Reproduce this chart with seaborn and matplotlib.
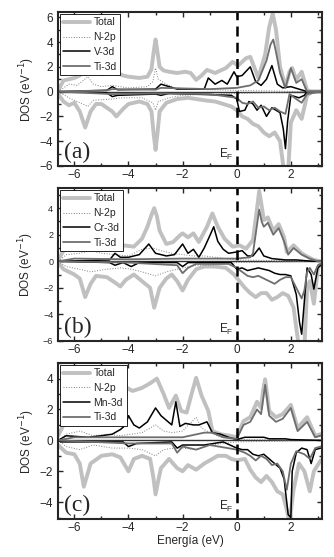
import seaborn as sns
import matplotlib.pyplot as plt
from matplotlib.ticker import MultipleLocator

# ---- datos (energía en eV, DOS en 1/eV) ----
# panel (a): V
A_TOT_UP = [(-6.6, 0.1), (-6.4, 0.9), (-6.2, 1.0), (-6.0, 1.1), (-5.8, 1.3), (-5.6, 1.8), (-5.5, 2.0), (-5.3, 1.6),
            (-5.0, 1.4), (-4.8, 1.5), (-4.6, 1.8), (-4.4, 1.5), (-4.2, 1.3), (-4.0, 1.2), (-3.6, 1.1), (-3.3, 1.2),
            (-3.15, 1.8), (-3.07, 3.2), (-3.0, 4.2), (-2.93, 3.2), (-2.85, 2.0), (-2.7, 1.7), (-2.5, 1.6),
            (-2.2, 1.5), (-1.9, 1.6), (-1.7, 1.5), (-1.5, 0.95), (-1.3, 1.3), (-1.1, 1.75), (-0.8, 1.5),
            (-0.4, 1.9), (-0.15, 2.4), (0.05, 2.1), (0.35, 2.7), (0.5, 2.8), (0.8, 1.1), (1.05, 3.0), (1.2, 5.2),
            (1.33, 6.3), (1.45, 5.0), (1.6, 2.0), (1.8, 0.4), (1.95, 1.6), (2.05, 1.9), (2.2, 0.95), (2.4, 1.6),
            (2.6, 0.1), (2.8, 0.0), (3.1, 0.0)]
A_TOT_DN = [(-6.6, -0.2), (-6.4, -0.8), (-6.2, -1.1), (-6.0, -0.9), (-5.8, -1.6), (-5.6, -2.9), (-5.4, -1.6),
            (-5.2, -1.0), (-5.0, -1.0), (-4.8, -1.3), (-4.6, -1.6), (-4.45, -2.0), (-4.2, -1.4), (-4.0, -1.0),
            (-3.6, -0.8), (-3.3, -1.0), (-3.15, -1.6), (-3.07, -3.4), (-3.0, -4.7), (-2.93, -3.4), (-2.85, -1.6),
            (-2.6, -0.9), (-2.2, -0.6), (-1.8, -0.5), (-1.5, -0.6), (-1.2, -0.7), (-0.8, -0.8), (-0.5, -1.0),
            (-0.2, -1.2), (0.0, -1.5), (0.2, -2.0), (0.4, -2.2), (0.6, -2.6), (0.8, -2.8), (1.0, -3.3),
            (1.2, -3.6), (1.4, -3.3), (1.6, -4.0), (1.75, -6.5), (1.9, -6.5), (2.0, -2.5), (2.2, -1.5),
            (2.4, -2.2), (2.6, -0.3), (2.8, 0.0), (3.1, 0.0)]
A_X_UP = [(-6.6, 0.0), (-4.8, 0.1), (-4.6, 0.4), (-4.4, 0.15), (-3.0, 0.2), (-2.8, 0.6), (-2.5, 0.4), (-2.2, 0.2),
          (-1.2, 0.2), (-1.05, 1.1), (-0.8, 0.6), (-0.55, 0.9), (-0.35, 0.6), (-0.1, 1.6), (0.0, 1.2), (0.2, 1.3),
          (0.5, 2.0), (0.7, 0.8), (0.9, 0.5), (1.1, 1.0), (1.3, 2.1), (1.5, 0.6), (1.7, 0.3), (2.0, 0.4),
          (2.3, 0.2), (2.6, 0.0), (3.1, 0.0)]
A_X_DN = [(-6.6, 0.0), (-4.8, -0.1), (-4.6, -0.4), (-4.4, -0.3), (-3.0, -0.2), (-2.8, -0.3), (-2.5, -0.15),
          (-0.2, -0.3), (0.0, -0.6), (0.1, -1.6), (0.3, -1.5), (0.45, -0.8), (0.6, -1.0), (0.75, -1.5), (0.9, -1.1),
          (1.1, -2.0), (1.3, -1.3), (1.45, -1.5), (1.6, -1.7), (1.72, -3.0), (1.8, -4.6), (1.88, -2.4),
          (2.0, -0.3), (2.3, -0.5), (2.5, -0.3), (2.6, 0.0), (3.1, 0.0)]
A_TI_UP = [(-6.6, 0.0), (-4.8, 0.1), (-4.6, 0.2), (-3.0, 0.15), (-2.8, 0.3), (-1.0, 0.2), (0.0, 0.3), (0.5, 0.5),
           (0.8, 0.9), (1.1, 2.5), (1.25, 3.8), (1.35, 4.2), (1.45, 3.2), (1.6, 1.5), (1.8, 0.3), (2.0, 1.9),
           (2.2, 0.7), (2.4, 1.0), (2.6, 0.0), (3.1, 0.0)]
A_TI_DN = [(-6.6, 0.0), (-4.6, -0.2), (-3.0, -0.15), (-1.0, -0.2), (0.0, -0.5), (0.2, -0.9), (0.4, -1.0),
           (0.6, -0.8), (0.8, -1.3), (1.0, -1.2), (1.2, -1.5), (1.4, -1.3), (1.6, -1.6), (1.8, -1.8), (1.95, -0.2),
           (2.2, -0.6), (2.4, -0.9), (2.6, -0.2), (3.1, 0.0)]
A_N_UP = [(-6.6, 0.0), (-6.2, 0.6), (-5.9, 0.5), (-5.5, 1.2), (-5.3, 0.6), (-5.0, 0.4), (-4.6, 0.5), (-4.0, 0.3),
          (-3.3, 0.4), (-3.1, 0.8), (-3.0, 1.9), (-2.9, 1.0), (-2.6, 0.6), (-2.3, 0.3), (-1.8, 0.2), (-1.0, 0.15),
          (0.0, 0.1), (2.6, 0.0), (3.1, 0.0)]
A_N_DN = [(-6.6, 0.0), (-6.2, -0.5), (-5.5, -1.2), (-5.3, -0.7), (-4.6, -0.6), (-4.3, -0.5), (-3.5, -0.5),
          (-3.1, -0.9), (-3.0, -1.5), (-2.9, -0.8), (-2.5, -0.5), (-2.0, -0.3), (-1.0, -0.2), (0.0, -0.15),
          (2.5, 0.0), (3.1, 0.0)]

# panel (b): Cr
B_TOT_UP = [(-6.6, 0.1), (-6.4, 0.8), (-6.2, 0.9), (-5.8, 1.0), (-5.4, 1.1), (-5.0, 1.0), (-4.6, 1.2), (-4.2, 1.2),
            (-3.8, 1.1), (-3.5, 1.7), (-3.3, 2.6), (-3.15, 3.5), (-3.05, 4.0), (-2.95, 3.4), (-2.85, 2.3),
            (-2.6, 1.3), (-2.35, 1.45), (-2.1, 1.95), (-2.0, 2.1), (-1.8, 1.8), (-1.6, 2.1), (-1.4, 1.45),
            (-1.1, 2.6), (-0.9, 3.6), (-0.7, 2.6), (-0.45, 1.7), (-0.15, 1.1), (0.1, 1.2), (0.35, 0.95),
            (0.6, 1.6), (0.72, 3.5), (0.83, 5.3), (0.92, 4.2), (1.0, 3.1), (1.15, 3.3), (1.35, 2.3), (1.55, 2.8),
            (1.75, 1.8), (1.85, 0.7), (2.1, 1.2), (2.4, 0.6), (2.65, 0.3), (2.85, 0.1), (3.1, 0.0)]
B_TOT_DN = [(-6.6, -0.1), (-6.4, -0.6), (-6.2, -0.8), (-6.0, -1.0), (-5.8, -1.3), (-5.6, -2.7), (-5.4, -1.7),
            (-5.2, -1.1), (-4.8, -1.2), (-4.5, -1.6), (-4.3, -1.9), (-4.1, -1.4), (-3.8, -1.0), (-3.5, -1.5),
            (-3.2, -2.0), (-3.05, -3.5), (-2.85, -2.0), (-2.6, -1.3), (-2.4, -1.0), (-2.2, -1.5), (-2.0, -2.2),
            (-1.8, -1.4), (-1.5, -0.6), (-1.2, -0.4), (-0.8, -0.4), (-0.4, -0.5), (-0.1, -1.0), (0.1, -1.5),
            (0.3, -2.0), (0.5, -2.4), (0.7, -2.7), (0.9, -2.4), (1.1, -2.4), (1.3, -2.9), (1.5, -2.7), (1.7, -2.4),
            (1.9, -2.6), (2.1, -3.5), (2.3, -6.5), (2.5, -6.5), (2.6, -2.0), (2.7, -1.5), (2.85, -3.2), (3.0, -0.5),
            (3.1, -0.2)]
B_X_UP = [(-6.6, 0.0), (-4.7, 0.1), (-4.5, 0.6), (-4.3, 0.3), (-4.0, 0.3), (-3.6, 0.5), (-3.25, 1.3), (-3.0, 0.6),
          (-2.6, 0.4), (-2.3, 0.5), (-2.0, 1.3), (-1.8, 0.6), (-1.6, 0.9), (-1.4, 0.3), (-1.2, 1.0), (-1.0, 1.9),
          (-0.85, 2.6), (-0.7, 1.5), (-0.5, 0.9), (-0.3, 0.6), (0.0, 0.7), (0.2, 0.8), (0.4, 0.4), (0.6, 0.4),
          (0.83, 1.0), (1.0, 0.4), (1.3, 0.2), (1.8, 0.1), (2.2, 0.1), (2.8, 0.0), (3.1, 0.0)]
B_X_DN = [(-6.6, 0.0), (-4.7, -0.1), (-4.5, -0.3), (-4.2, -0.1), (-3.9, -0.4), (-3.6, -0.1), (-2.2, -0.1),
          (-2.0, -0.4), (-1.8, -0.1), (-0.2, -0.1), (0.0, -0.6), (0.2, -0.5), (0.4, -0.7), (0.6, -0.6), (0.8, -0.5),
          (1.0, -0.6), (1.2, -0.7), (1.4, -0.9), (1.6, -1.0), (1.8, -1.0), (2.0, -1.1), (2.2, -2.5), (2.32, -4.6),
          (2.4, -5.5), (2.5, -3.0), (2.6, -0.5), (2.75, -1.0), (2.85, -2.1), (3.0, -0.5), (3.1, -0.3)]
B_TI_UP = [(-6.6, 0.0), (-6.0, 0.2), (-4.0, 0.15), (-2.0, 0.2), (-1.0, 0.2), (0.0, 0.2), (0.5, 0.3), (0.6, 0.6),
           (0.74, 2.6), (0.83, 3.9), (0.92, 3.0), (1.0, 2.6), (1.15, 2.9), (1.35, 2.0), (1.55, 2.5), (1.75, 1.5),
           (1.9, 0.5), (2.1, 1.0), (2.4, 0.5), (2.7, 0.2), (3.0, 0.0), (3.1, 0.0)]
B_TI_DN = [(-6.6, 0.0), (-4.0, -0.1), (-2.2, -0.3), (-2.0, -0.9), (-1.8, -0.5), (-1.5, -0.2), (-0.3, -0.2),
           (0.0, -0.5), (0.2, -0.8), (0.4, -1.1), (0.6, -1.2), (0.8, -1.1), (1.0, -1.3), (1.2, -1.5), (1.4, -1.7),
           (1.6, -1.4), (1.8, -1.2), (2.0, -1.2), (2.2, -2.0), (2.4, -2.8), (2.5, -2.2), (2.6, -0.8), (2.7, -0.5),
           (2.85, -1.0), (3.0, -0.3), (3.1, -0.2)]
B_N_UP = [(-6.6, 0.0), (-6.3, 0.5), (-5.8, 0.6), (-5.4, 0.8), (-5.0, 0.6), (-4.5, 0.5), (-4.0, 0.4), (-3.5, 0.9),
          (-3.1, 1.0), (-2.8, 0.8), (-2.4, 0.6), (-2.0, 0.5), (-1.6, 0.4), (-1.2, 0.4), (-0.8, 0.3), (0.0, 0.1),
          (3.1, 0.0)]
B_N_DN = [(-6.6, 0.0), (-6.3, -0.4), (-5.8, -0.6), (-5.4, -0.8), (-4.8, -0.6), (-4.3, -0.5), (-3.9, -0.6),
          (-3.5, -0.8), (-3.0, -1.1), (-2.6, -0.8), (-2.0, -0.5), (-1.5, -0.3), (-1.0, -0.3), (0.0, -0.1),
          (3.1, 0.0)]

# panel (c): Mn
C_TOT_UP = [(-6.6, 0.3), (-6.4, 1.0), (-6.0, 1.5), (-5.6, 1.4), (-5.2, 1.6), (-4.8, 1.8), (-4.4, 2.0), (-4.2, 2.5),
            (-4.05, 3.4), (-3.85, 3.2), (-3.5, 3.4), (-3.2, 3.7), (-2.95, 4.0), (-2.7, 3.0), (-2.5, 2.1),
            (-2.25, 2.9), (-2.05, 1.9), (-1.85, 1.8), (-1.7, 2.8), (-1.5, 4.05), (-1.3, 2.9), (-1.05, 1.9),
            (-0.9, 0.6), (-0.6, 0.4), (-0.25, 0.3), (0.0, 0.2), (0.25, 1.25), (0.5, 1.5), (0.75, 2.5), (0.9, 2.1),
            (0.97, 3.2), (1.05, 3.95), (1.12, 3.0), (1.2, 1.9), (1.45, 1.5), (1.7, 1.7), (2.0, 2.3), (2.25, 0.8),
            (2.6, 1.5), (2.9, 0.3), (3.1, 0.4)]
C_TOT_DN = [(-6.6, -0.3), (-6.3, -0.8), (-6.0, -0.9), (-5.8, -1.5), (-5.65, -3.0), (-5.4, -1.5), (-5.0, -1.0),
            (-4.6, -0.9), (-4.3, -1.1), (-4.0, -2.0), (-3.8, -1.2), (-3.5, -1.0), (-3.2, -1.2), (-3.08, -2.4),
            (-3.0, -3.5), (-2.9, -2.6), (-2.8, -1.8), (-2.5, -1.2), (-2.2, -1.8), (-2.0, -2.0), (-1.8, -1.6),
            (-1.5, -1.9), (-1.2, -1.5), (-1.0, -1.3), (-0.7, -1.0), (-0.4, -1.0), (-0.2, -1.2), (0.0, -1.3),
            (0.3, -1.2), (0.5, -1.9), (0.7, -2.4), (0.9, -2.7), (1.1, -2.3), (1.3, -2.7), (1.5, -3.3), (1.7, -3.5),
            (1.85, -4.5), (1.95, -5.3), (2.1, -3.2), (2.3, -1.5), (2.5, -2.0), (2.7, -3.3), (2.85, -2.0),
            (3.1, -1.3)]
C_X_UP = [(-6.6, 0.0), (-6.3, 0.3), (-5.5, 0.2), (-5.0, 0.3), (-4.6, 0.4), (-4.3, 0.7), (-4.1, 1.0), (-4.0, 1.6),
          (-3.8, 1.0), (-3.6, 0.8), (-3.3, 1.2), (-3.0, 2.1), (-2.8, 1.6), (-2.6, 1.3), (-2.4, 1.0), (-2.25, 2.5),
          (-2.1, 0.9), (-1.9, 1.1), (-1.6, 1.0), (-1.4, 1.0), (-1.1, 1.2), (-0.9, 0.5), (-0.6, 0.4), (-0.3, 0.2),
          (0.0, 0.05), (0.3, 0.2), (0.6, 0.2), (1.0, 0.2), (1.2, 0.1), (1.8, 0.1), (2.0, 0.05), (3.1, 0.0)]
C_X_DN = [(-6.6, 0.0), (-6.5, -0.1), (-4.2, -0.1), (-4.0, -0.4), (-3.7, -0.2), (-2.4, -0.1), (-2.2, -0.5),
          (-2.0, -0.3), (-1.2, -0.3), (-0.5, -0.1), (0.0, -0.5), (0.2, -0.6), (0.4, -0.6), (0.6, -0.9),
          (0.8, -1.0), (1.0, -0.9), (1.2, -1.2), (1.4, -1.5), (1.6, -1.8), (1.75, -2.5), (1.9, -4.8), (2.0, -5.0),
          (2.05, -2.0), (2.2, -0.8), (2.4, -0.5), (2.6, -0.6), (2.75, -1.5), (2.9, -0.6), (3.1, -0.5)]
C_TI_UP = [(-6.6, 0.0), (-6.0, 0.2), (-4.0, 0.2), (-2.0, 0.2), (-1.2, 0.5), (-0.9, 0.5), (-0.5, 0.2), (0.0, 0.1),
           (0.25, 1.0), (0.5, 1.2), (0.75, 2.0), (0.9, 1.7), (1.05, 3.6), (1.2, 1.6), (1.45, 1.2), (1.7, 1.4),
           (2.0, 2.1), (2.25, 0.6), (2.6, 1.2), (2.9, 0.2), (3.1, 0.3)]
C_TI_DN = [(-6.6, 0.0), (-4.0, -0.2), (-2.4, -0.2), (-2.2, -0.8), (-2.0, -0.4), (-1.5, -0.6), (-1.0, -0.3),
           (0.0, -0.6), (0.3, -0.8), (0.5, -1.0), (0.7, -1.3), (0.9, -1.0), (1.1, -1.2), (1.3, -1.6), (1.5, -1.5),
           (1.7, -2.0), (1.85, -3.2), (2.0, -1.5), (2.2, -0.7), (2.5, -0.9), (2.7, -1.2), (2.9, -0.5), (3.1, -0.4)]
C_N_UP = [(-6.6, 0.0), (-6.3, 0.4), (-5.8, 0.6), (-5.3, 0.3), (-4.8, 0.4), (-4.3, 0.3), (-3.9, 0.4), (-3.5, 0.5),
          (-3.0, 1.0), (-2.7, 0.6), (-2.4, 0.5), (-2.0, 0.6), (-1.5, 1.5), (-1.3, 0.8), (-1.0, 0.5), (-0.6, 0.2),
          (0.0, 0.05), (3.1, 0.0)]
C_N_DN = [(-6.6, 0.0), (-6.3, -0.4), (-5.8, -0.6), (-5.3, -0.3), (-4.6, -0.5), (-4.0, -0.5), (-3.5, -0.6),
          (-3.0, -1.0), (-2.7, -0.6), (-2.3, -0.5), (-2.0, -0.5), (-1.5, -0.6), (-1.0, -0.3), (0.0, -0.1),
          (3.1, 0.0)]

METALS = ["V-3d", "Cr-3d", "Mn-3d"]
LETTERS = ["(a)", "(b)", "(c)"]
YLIMS = [(-6, 6.4), (-6, 5.5), (-5.1, 5.0)]

PANELS = [
    (A_TOT_UP, A_TOT_DN, A_N_UP, A_N_DN, A_X_UP, A_X_DN, A_TI_UP, A_TI_DN),
    (B_TOT_UP, B_TOT_DN, B_N_UP, B_N_DN, B_X_UP, B_X_DN, B_TI_UP, B_TI_DN),
    (C_TOT_UP, C_TOT_DN, C_N_UP, C_N_DN, C_X_UP, C_X_DN, C_TI_UP, C_TI_DN),
]

sns.set_style("ticks")
plt.rcParams['font.family'] = ['Liberation Sans', 'DejaVu Sans']


def curve(ax, pts, **kw):
    xs = [p[0] for p in pts]
    ys = [p[1] for p in pts]
    sns.lineplot(x=xs, y=ys, ax=ax, estimator=None, sort=False, **kw)


fig = plt.figure(figsize=(3.34, 5.57), dpi=100)
boxes = [(0.174, 0.702, 0.79, 0.276), (0.174, 0.388, 0.79, 0.274), (0.174, 0.068, 0.79, 0.280)]

for i, (box, data) in enumerate(zip(boxes, PANELS)):
    ax = fig.add_axes(box)
    tu, td, nu, nd, xu, xd, tiu, tid = data
    curve(ax, tu, color="#c0c0c0", lw=2.8, label="Total")
    curve(ax, td, color="#c0c0c0", lw=2.8)
    curve(ax, nu, color="#808080", lw=0.7, linestyle=":", label="N-2p")
    curve(ax, nd, color="#808080", lw=0.7, linestyle=":")
    curve(ax, xu, color="black", lw=1.1, label=METALS[i])
    curve(ax, xd, color="black", lw=1.1)
    curve(ax, tiu, color="#6e6e6e", lw=1.3, label="Ti-3d")
    curve(ax, tid, color="#6e6e6e", lw=1.3)
    ax.axhline(0, color="#333333", lw=1.0, zorder=1)
    ax.axvline(0, color="black", lw=1.8, dashes=(4, 2.5))

    ax.set_xlim(-6.6, 3.15)
    ax.set_ylim(*YLIMS[i])
    ax.xaxis.set_major_locator(MultipleLocator(2))
    ax.xaxis.set_minor_locator(MultipleLocator(1))
    ax.yaxis.set_major_locator(MultipleLocator(2))
    ax.yaxis.set_minor_locator(MultipleLocator(1))
    tsize = 6.5 if i == 1 else 8.5
    ax.tick_params(which="both", direction="in", top=True, right=True, width=1.0)
    ax.tick_params(which="major", length=3.5, labelsize=tsize)
    ax.tick_params(which="minor", length=2)
    ax.tick_params(axis="x", labelsize=8.5, pad=2)
    for s in ax.spines.values():
        s.set_linewidth(1.5)
    ax.set_ylabel("DOS (eV$^{-1}$)", fontsize=8.5, labelpad=2 if i != 1 else 5)

    leg = ax.legend(loc="upper left", fontsize=7.5, handlelength=2.6, borderpad=0.35,
                    labelspacing=0.45, handletextpad=0.3, borderaxespad=0.15, fancybox=False)
    leg.get_frame().set_edgecolor("black")
    leg.get_frame().set_linewidth(0.6)
    leg.get_frame().set_alpha(1)

    ylo = YLIMS[i][0]
    ax.text(-6.38, ylo + 0.2, LETTERS[i], fontsize=17, family="Liberation Serif", va="bottom", ha="left")
    ax.text(-0.1, ylo + 0.3, "E$_\\mathregular{F}$", fontsize=8.5, va="bottom", ha="right")

ax.set_xlabel("Energía (eV)", fontsize=8.5, labelpad=1)

fig.savefig("out.png", dpi=100)
